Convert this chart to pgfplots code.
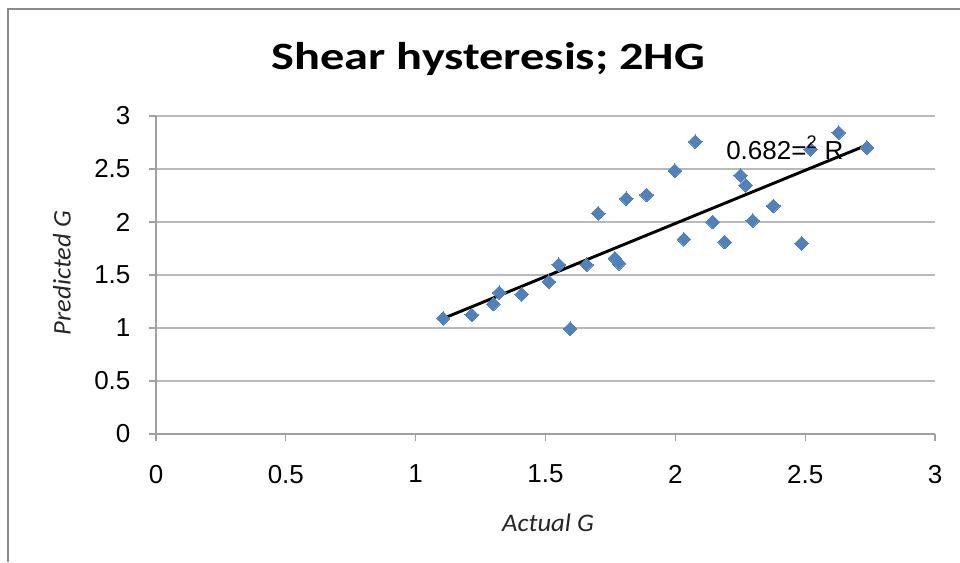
\documentclass[border=0pt]{standalone}
\usepackage{fontspec}
\setmainfont{Liberation Sans}
\newfontfamily\titlefont[FakeStretch=1.25]{Carlito}
\newfontfamily\labelfont[FakeStretch=1.05]{Carlito}
\usepackage{pgfplots}
\pgfplotsset{compat=1.18}
\definecolor{ptblue}{RGB}{79,129,189}
\definecolor{gridc}{RGB}{185,185,185}
\definecolor{axisc}{RGB}{160,160,160}
\definecolor{framec}{RGB}{140,140,140}

\pgfplotstableread{
x y
1.106 1.091
1.216 1.123
1.299 1.226
1.322 1.333
1.408 1.318
1.513 1.437
1.551 1.597
1.595 0.993
1.658 1.597
1.703 2.082
1.767 1.657
1.783 1.610
1.811 2.220
1.889 2.255
1.998 2.484
2.033 1.837
2.077 2.758
2.144 2.000
2.190 1.811
2.251 2.440
2.271 2.346
2.298 2.012
2.377 2.151
2.486 1.799
2.521 2.686
2.629 2.843
2.738 2.701
}\pts

\begin{document}
\begin{tikzpicture}[x=0.75pt,y=0.75pt]
\path[use as bounding box] (0,0) rectangle (960,562);
\fill[white] (0,0) rectangle (960,562);
\draw[framec, line width=1.5pt] (8,0) -- (8,553) -- (960,553);
\begin{axis}[
 at={(117pt,96pt)}, anchor=south west, scale only axis,
 width=584.25pt, height=238.5pt,
 xmin=0,xmax=3,ymin=0,ymax=3,
 xtick={0,0.5,1,1.5,2,2.5,3}, ytick={0,0.5,1,1.5,2,2.5,3},
 axis lines*=left,
 axis line style={axisc, line width=0.8pt},
 ymajorgrids, grid style={gridc, line width=0.8pt},
 tick align=outside, major tick length=5pt,
 tick style={axisc, line width=0.8pt},
 /pgf/number format/assume math mode=true,
 ticklabel style={font=\fontsize{19.5}{20}\selectfont, inner sep=0pt},
 xticklabel style={anchor=north},
 yticklabel style={anchor=east},
 xticklabel shift=18pt,
 yticklabel shift=14pt,
 clip=false,
]
\addplot[only marks, color=ptblue, mark=square*, mark size=3.6pt, mark options={rotate=45, fill=ptblue, draw=ptblue, line width=0pt}] table[x=x,y=y] {\pts};
\addplot[black, line width=2.2pt] coordinates {(1.106,1.09) (2.738,2.726)};
\end{axis}
\node[anchor=base west, font=\fontsize{19.5}{20}\selectfont, inner sep=0pt] at (726,403) {0.682=\textsuperscript{2} R};
\node[anchor=base, inner sep=0pt, font=\titlefont\bfseries\fontsize{29}{30}\selectfont] at (488.5,493) {Shear hysteresis; 2HG};
\node[font=\labelfont\itshape\fontsize{19}{20}\selectfont, text=black!85] at (548,39) {Actual G};
\node[rotate=90, font=\labelfont\itshape\fontsize{19}{20}\selectfont, text=black!85] at (62,289) {Predicted G};
\end{tikzpicture}
\end{document}
